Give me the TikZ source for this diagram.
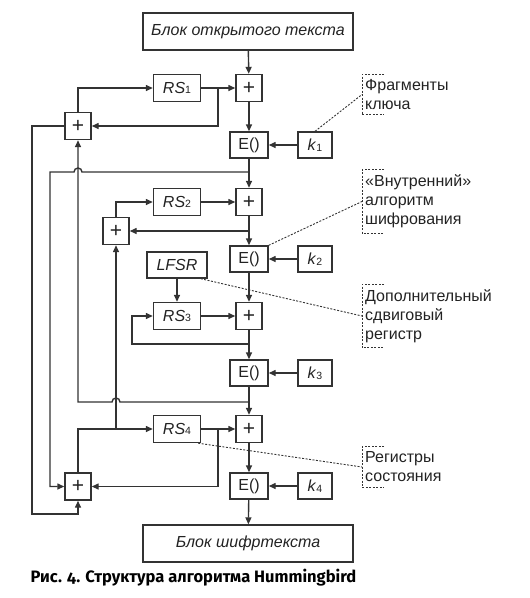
\documentclass[tikz,border=0pt]{standalone}
\usepackage{fontspec}
\setmainfont{Liberation Sans}
\newfontfamily\capfont[Numbers=OldStyle]{Fira Sans}
\usetikzlibrary{arrows.meta, positioning, calc}
\definecolor{wireGray}{HTML}{333333}
\definecolor{textGray}{HTML}{222222}
\newcommand{\sbs}[1]{\raisebox{-0.6pt}{\fontsize{10.5pt}{10pt}\selectfont #1}}

\begin{document}
\begin{tikzpicture}[
    x=1pt, y=-1pt,
    every node/.style={text=textGray, font=\fontsize{16pt}{19pt}\selectfont},
    base/.style={draw=wireGray, line width=1.4pt, inner sep=0pt},
    blk/.style={base, minimum width=210pt, minimum height=37pt, font=\fontsize{16pt}{19pt}\selectfont\itshape},
    sum/.style={base, minimum width=26pt, minimum height=27pt, font=\fontsize{21pt}{21pt}\selectfont},
    enc/.style={base, minimum width=38pt, minimum height=26pt},
    keybox/.style={base, minimum width=34pt, minimum height=26pt},
    reg/.style={base, minimum width=47pt, minimum height=27pt},
    note/.style={anchor=west, align=left, inner xsep=3pt, inner ysep=5pt},
    wire/.style={draw=wireGray, line width=1.4pt},
    arr/.style={wire, -{Triangle[length=7pt, width=6pt]}},
    bracket/.style={draw=wireGray, line width=0.9pt, dash pattern=on 2pt off 1.5pt},
    hop/.style={start angle=0, end angle=180, radius=4pt},
]
    \useasboundingbox (0,0) rectangle (530,598);

    % main column
    \node[blk] (plain) at (248,31.5) {Блок открытого текста};
    \foreach \i/\y in {1/88, 2/202, 3/316, 4/429} {
        \node[sum] (p\i) at (249,\y) {+};
        \node[reg] (rs\i) at (177,\y) {\textit{RS}\sbs{\i}};
        \node[enc] (e\i) at (249,\y+57) {E()};
        \node[keybox] (k\i) at (315,\y+57) {\textit{k}\sbs{\i}};
    }
    \node[blk] (cipher) at (248,543.5) {Блок шифртекста};
    \node[base, minimum width=60pt, minimum height=26pt, font=\fontsize{16pt}{19pt}\selectfont\itshape] (lfsr) at (177,265) {LFSR};

    % state adders
    \node[sum] (a1) at (78,126) {+};
    \node[sum] (a2) at (116,231) {+};
    \node[sum] (a4) at (78,486.5) {+};

    % notes
    \node[note] (lblkey) at (362,94.5) {Фрагменты\\ключа};
    \node[note] (lblcipher) at (362,201.5) {«Внутренний»\\алгоритм\\шифрования};
    \node[note] (lbllfsr) at (362,316) {Дополнительный\\сдвиговый\\регистр};
    \node[note] (lblstate) at (362,467) {Регистры\\состояния};
    \foreach \n in {lblkey, lblcipher, lbllfsr, lblstate}
        \draw[bracket] ([xshift=22pt]\n.north west) -- (\n.north west) -- (\n.south west) -- ([xshift=22pt]\n.south west);

    % data path
    \draw[arr] (plain) -- (p1);
    \foreach \i [evaluate=\i as \j using int(\i+1)] in {1,2,3} {
        \draw[arr] (p\i) -- (e\i);
        \draw[arr] (e\i) -- (p\j);
    }
    \draw[arr] (p4) -- (e4);
    \draw[arr] (e4) -- (cipher);
    \foreach \i in {1,...,4} {
        \draw[arr] (rs\i) -- (p\i);
        \draw[arr] (k\i) -- (e\i);
    }
    \draw[arr] (lfsr) -- (rs3);

    % junctions
    \coordinate (j1) at (218,88);
    \coordinate (j2) at (249,172);
    \coordinate (j3) at (249,402);
    \coordinate (j4) at (249,231);
    \coordinate (j5) at (116,429);
    \coordinate (j6) at (249,344);
    \coordinate (j7) at (218,429);
    \coordinate (h1) at (78,172);
    \coordinate (h2) at (116,402);
    \coordinate (lc) at (50,172);
    \coordinate (lw) at (32,514);
    \coordinate (l3) at (132,344);

    % state feedback
    \draw[arr] (j1) |- (a1.east);
    \draw[arr] (a1.north) |- (rs1.west);
    \draw[arr] (a1.west) -| (lw) -| (a4.south);
    \draw[arr] (j2) -- ([xshift=4pt]h1) arc[hop] -- (lc) |- (a4.west);
    \draw[arr] (j3) -- ([xshift=4pt]h2) arc[hop] -- (a1.south |- j3) -- (a1.south);
    \draw[arr] (j4) -- (a2.east);
    \draw[arr] (a2.north) |- (rs2.west);
    \draw[arr] (j5) -- (a2.south);
    \draw[arr] (j6) -- (l3) |- (rs3.west);
    \draw[arr] (j7) |- (a4.east);
    \draw[arr] (a4.north) |- (rs4.west);

    % pointers to notes
    \draw[bracket] (k1.north) -- (lblkey.west);
    \draw[bracket] (e2.north east) -- (lblcipher.west);
    \draw[bracket] ([xshift=-7pt]lfsr.south east) -- (lbllfsr.west);
    \draw[bracket] ([xshift=-3pt]rs4.south east) -- (lblstate.west);

    \node[font=\capfont\bfseries\fontsize{16.5pt}{18pt}\selectfont, text=black] (caption) at (193.5,578) {Рис. 4. Структура алгоритма Hummingbird};
\end{tikzpicture}
\end{document}
